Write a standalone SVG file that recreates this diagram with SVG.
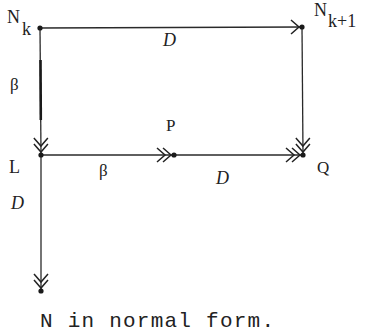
<svg xmlns="http://www.w3.org/2000/svg" width="366" height="333" viewBox="0 0 366 333">
<style>
.e{stroke:#2a2a2a;stroke-width:1.3;fill:none}
.d{fill:#1a1a1a}
.t{font-family:"Liberation Serif","DejaVu Serif",serif;fill:#222}
.m{font-family:"Liberation Mono","DejaVu Sans Mono",monospace;fill:#222}
.s{font-family:"Liberation Serif","DejaVu Serif",serif;font-style:italic;fill:#222}
</style>
<defs>
<marker id="a1" markerUnits="userSpaceOnUse" viewBox="0 0 20 16" markerWidth="20" markerHeight="16" refX="19" refY="8" orient="auto" overflow="visible">
<path d="M8,1 L16,8 L8,15" stroke="#222" stroke-width="1.5" fill="none"/>
</marker>
<marker id="a2" markerUnits="userSpaceOnUse" viewBox="0 0 20 16" markerWidth="20" markerHeight="16" refX="19" refY="8" orient="auto" overflow="visible">
<path d="M8,1 L16,8 L8,15 M2,1 L10,8 L2,15" stroke="#222" stroke-width="1.5" fill="none"/>
</marker>
</defs>
<g id="connectors">
<path class="e" d="M40,28 L302,27" marker-end="url(#a1)"/>
<path class="e" d="M40,28 L41,155" marker-end="url(#a2)"/>
<path d="M40.5,60 L40.8,120" stroke="#1a1a1a" stroke-width="2.6"/>
<path class="e" d="M302,27 L303,155" marker-end="url(#a2)"/>
<path class="e" d="M41,155 L174,155" marker-end="url(#a2)"/>
<path class="e" d="M174,155 L303,155" marker-end="url(#a2)"/>
<path class="e" d="M41,155 L41,291" marker-end="url(#a2)"/>
</g>
<g id="Nk"><circle class="d" cx="40" cy="28" r="2.6"/><text class="t" x="7" y="23" font-size="18">N</text><text class="t" x="22" y="35" font-size="18">k</text></g>
<g id="Nk1"><circle class="d" cx="302" cy="27" r="2.6"/><text class="t" x="314" y="16" font-size="18">N</text><text class="t" x="328" y="27" font-size="18">k+1</text></g>
<g id="L"><circle class="d" cx="41" cy="155" r="2.6"/><text class="t" x="9" y="173" font-size="18">L</text></g>
<g id="P"><circle class="d" cx="174" cy="155" r="2.6"/><text class="t" x="166" y="131" font-size="17">P</text></g>
<g id="Q"><circle class="d" cx="303" cy="155" r="2.6"/><text class="t" x="317" y="173" font-size="17">Q</text></g>
<g id="N"><circle class="d" cx="41" cy="291" r="2.6"/></g>
<g id="labels">
<text class="t" x="10" y="90" font-size="17">β</text>
<text class="t" x="99" y="176" font-size="17">β</text>
<text class="s" x="163" y="46" font-size="18">D</text>
<text class="s" x="216" y="184" font-size="18">D</text>
<text class="s" x="11" y="209" font-size="18">D</text>
<text class="m" x="40" y="327" font-size="21" textLength="234" lengthAdjust="spacing">N in normal form.</text>
</g>
</svg>
